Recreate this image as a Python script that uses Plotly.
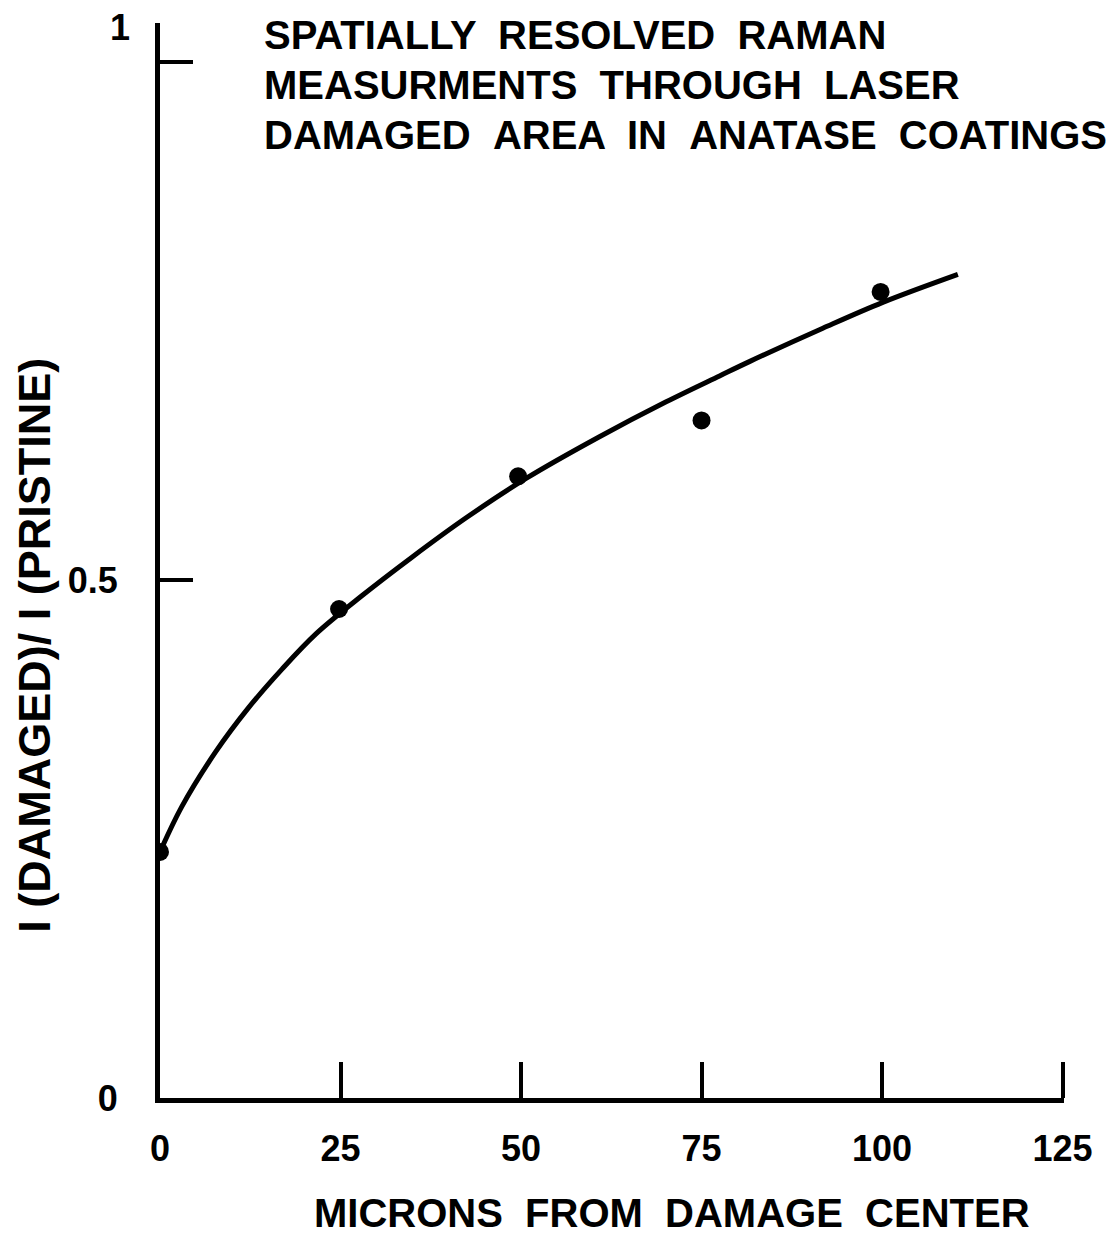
import plotly.graph_objects as go

# Measured data points
micron_pts = [0, 24.8, 49.6, 75, 99.8]
ratio_pts = [0.2375, 0.472, 0.600, 0.654, 0.778]

# Hand-drawn fitted curve
curve_x = [0, 3.0, 7.7, 12.3, 16.9, 21.6, 28.0, 34.9, 42.4, 50.7, 60.8, 70.1, 77.5, 81.7, 91.8, 100.1, 110.5]
curve_y = [0.2375, 0.281, 0.334, 0.377, 0.414, 0.448, 0.485, 0.522, 0.560, 0.598, 0.638, 0.672, 0.697, 0.711, 0.743, 0.768, 0.795]

x_ticks = [0, 25, 50, 75, 100, 125]
x_tick_text = ["0", "25", "50", "75", "100", "125"]
y_ticks = [0, 0.5, 1]
y_tick_text = ["0", "0.5", ""]

title_lines = [
    "SPATIALLY \u00a0RESOLVED \u00a0RAMAN",
    "MEASURMENTS \u00a0THROUGH \u00a0LASER",
    "DAMAGED \u00a0AREA \u00a0IN \u00a0ANATASE \u00a0COATINGS",
]
x_title = "MICRONS \u00a0FROM \u00a0DAMAGE \u00a0CENTER"
y_title = "I (DAMAGED)/ I (PRISTINE)"

FAM = "Liberation Sans, Arial, sans-serif"

fig = go.Figure()
fig.add_trace(go.Scatter(x=curve_x, y=curve_y, mode="lines",
                         line=dict(color="black", width=5, shape="spline", smoothing=1.0),
                         hoverinfo="skip", showlegend=False))
fig.add_trace(go.Scatter(x=micron_pts, y=ratio_pts, mode="markers",
                         marker=dict(color="black", size=18), showlegend=False))

axis_common = dict(showline=True, linecolor="black", linewidth=5, showgrid=False,
                   zeroline=False, ticks="inside", tickcolor="black", tickwidth=4,
                   tickfont=dict(family=FAM, size=36, color="black", weight="bold"),
                   mirror=False)

fig.update_xaxes(range=[0, 125.2], tickvals=x_ticks, ticktext=x_tick_text,
                 ticklen=36, ticklabelstandoff=15, **axis_common)
fig.update_yaxes(range=[0, 1.0376], tickvals=y_ticks, ticktext=y_tick_text,
                 ticklen=33, ticklabelstandoff=30, **axis_common)

ann_font = dict(family=FAM, size=40, color="black", weight="bold")
title_y = [0.9888, 0.9423, 0.8958]
for line, yy in zip(title_lines, title_y):
    fig.add_annotation(text=line, xref="paper", yref="paper", x=0.113, y=yy,
                       xanchor="left", yanchor="middle", showarrow=False, font=ann_font)

fig.add_annotation(text=x_title, xref="paper", yref="paper", x=0.566, y=-0.107,
                   xanchor="center", yanchor="middle", showarrow=False,
                   font=dict(family=FAM, size=40, color="black", weight="bold"))
fig.add_annotation(text=y_title, xref="paper", yref="paper", x=-0.139, y=0.421,
                   xanchor="center", yanchor="middle", textangle=-90, showarrow=False,
                   font=dict(family=FAM, size=45, color="black", weight="bold"))
fig.add_annotation(text="1", xref="x", yref="y", x=0, y=1, xanchor="right",
                   yanchor="middle", xshift=-28, yshift=34, showarrow=False,
                   font=dict(family=FAM, size=36, color="black", weight="bold"))

fig.update_layout(width=1109, height=1231, autosize=False,
                  margin=dict(l=152, r=53, t=15, b=141),
                  paper_bgcolor="white", plot_bgcolor="white")

fig.write_html("out.html")
